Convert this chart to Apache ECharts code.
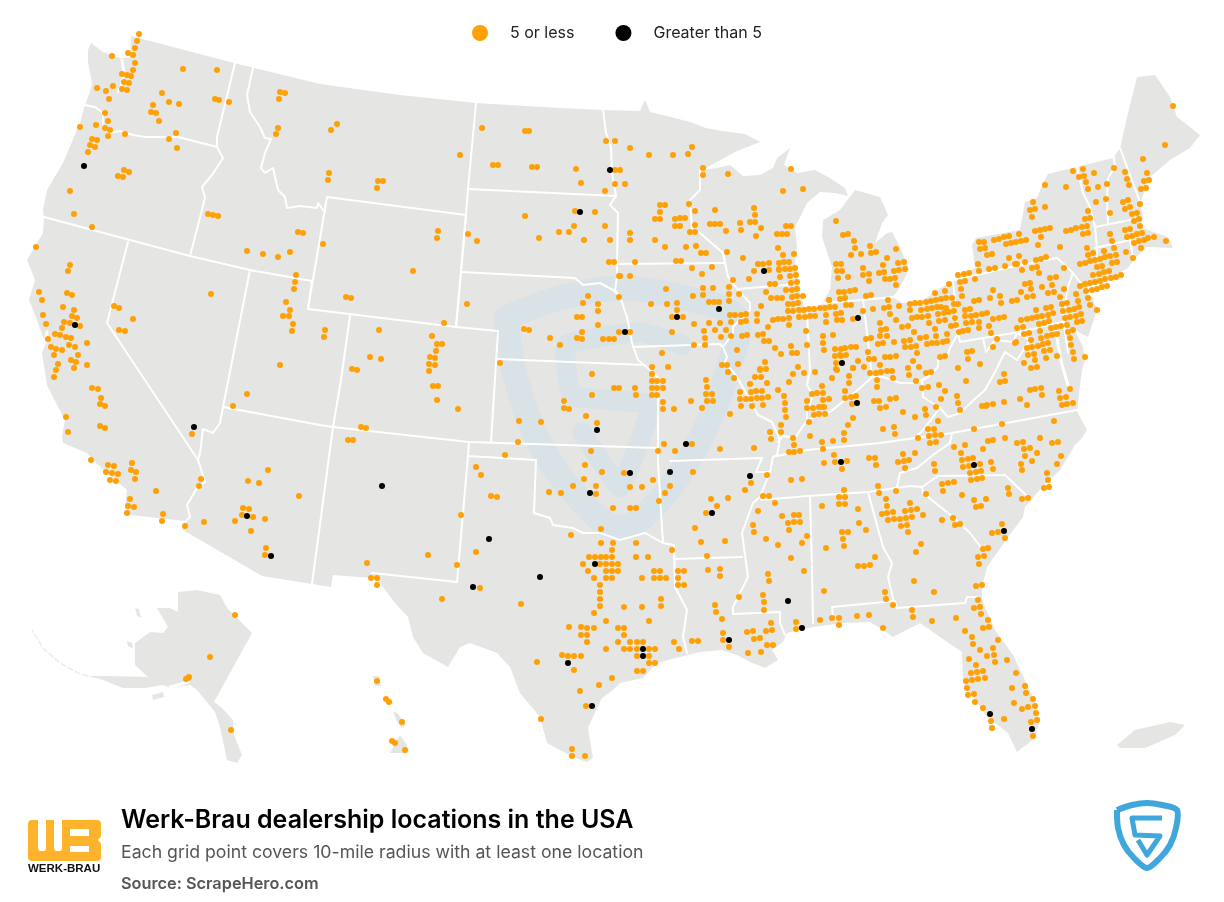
<!DOCTYPE html>
<html>
<head>
<meta charset="utf-8">
<title>Werk-Brau dealership locations in the USA</title>
<style>
  html, body { margin: 0; padding: 0; background: #fff; }
  #chart { width: 1224px; height: 902px; }
</style>
<script src="https://cdn.jsdelivr.net/npm/echarts@6/dist/echarts.min.js"></script>
</head>
<body>
<div id="chart"></div>
<script>
// dots, one array per part of the map, in picture units
var lessNorthwest = [[139,34],[137,41],[135,48],[128,53],[133,55],[112,56],[135,63],[133,70],[122,74],[127,75],[131,76],[124,82],[129,83],[97,88],[113,86],[106,91],[122,89],[127,90],[109,99],[183,69],[217,70],[162,93],[169,102],[179,104],[153,105],[151,112],[156,113],[159,121],[215,99],[219,100],[229,102],[280,92],[285,93],[279,99],[278,128],[276,134],[105,113],[108,121],[96,125],[105,128],[110,130],[108,136],[125,134],[80,127],[92,139],[97,140],[90,145],[95,147],[88,152],[176,133],[169,139],[177,148],[124,170],[129,172],[118,176],[123,177],[70,191],[74,214],[92,227],[208,214],[213,215],[218,216],[298,232],[303,233],[247,251],[263,254],[278,257],[290,252],[296,275],[295,282],[294,289],[36,247],[70,265],[68,271],[39,292],[42,300],[67,293],[72,295],[211,294]];
var lessSouthwest = [[286,302],[290,310],[283,316],[289,316],[293,324],[292,331],[114,306],[119,308],[133,319],[119,330],[125,331],[63,307],[74,310],[72,316],[77,318],[43,315],[46,324],[64,322],[70,323],[80,326],[62,328],[55,334],[60,335],[66,337],[71,338],[48,339],[87,343],[69,345],[75,347],[51,347],[56,349],[62,350],[54,355],[78,355],[71,360],[76,362],[58,364],[87,365],[74,368],[56,370],[54,377],[280,365],[92,388],[98,389],[101,398],[100,404],[105,406],[247,394],[233,406],[66,417],[100,426],[105,428],[68,432],[192,434],[91,460],[108,465],[114,466],[132,463],[106,472],[112,473],[118,474],[131,470],[136,472],[110,480],[116,481],[135,479],[156,491],[130,499],[128,506],[134,507],[127,513],[163,514],[162,521],[185,526],[204,522],[201,479],[199,486],[268,470],[248,481],[259,483],[299,496],[243,508],[249,509],[242,515],[253,517],[235,521],[265,519],[251,531],[266,548],[265,555]];
var lessMountain = [[337,124],[331,130],[329,173],[328,180],[378,181],[383,181],[377,188],[460,155],[482,128],[525,131],[529,131],[493,165],[498,165],[532,167],[537,167],[576,169],[581,183],[606,141],[615,141],[615,170],[620,170],[615,184],[625,184],[605,191],[323,244],[438,231],[437,238],[413,271],[346,297],[351,298],[575,211],[595,212],[525,216],[574,226],[605,226],[559,232],[569,232],[468,234],[477,241],[539,238],[584,240],[610,240],[609,262],[614,262],[619,276],[588,296],[583,303],[598,304],[598,311],[577,317],[582,317],[598,325],[524,329],[529,330],[582,332],[619,332],[577,338],[582,339],[603,339],[609,339],[614,339],[550,338],[560,345],[467,304],[444,323],[500,363],[592,374],[325,330],[324,337],[379,330],[432,336],[437,344],[442,344],[436,351],[430,357],[435,358],[370,357],[381,359],[429,364],[435,365],[429,371],[352,369],[357,370],[433,386],[438,386],[437,400],[458,409],[361,427],[366,428],[348,440],[353,440]];
var lessPlains = [[652,374],[652,381],[657,381],[663,381],[614,388],[619,388],[635,388],[652,388],[657,388],[663,388],[592,395],[636,395],[652,395],[657,395],[564,401],[663,402],[564,408],[569,409],[663,409],[674,409],[586,416],[519,421],[541,422],[597,423],[518,442],[664,444],[591,451],[658,451],[675,451],[505,455],[585,465],[476,467],[481,475],[602,472],[624,473],[584,479],[653,480],[596,486],[573,486],[630,487],[642,487],[670,486],[549,492],[561,493],[596,494],[665,493],[491,496],[497,497],[659,501],[613,508],[630,508],[636,508],[461,515],[601,529],[571,535]];
var lessTexas = [[601,543],[613,543],[636,543],[476,552],[612,550],[672,550],[589,557],[595,557],[601,557],[606,557],[612,557],[636,557],[648,557],[428,555],[583,564],[600,564],[606,564],[612,564],[618,564],[367,563],[457,565],[588,571],[606,571],[612,571],[618,571],[654,571],[660,571],[678,571],[371,578],[377,578],[594,578],[606,578],[612,578],[642,578],[654,578],[660,578],[666,578],[678,578],[377,585],[600,585],[480,588],[600,592],[600,599],[442,599],[661,599],[521,604],[600,606],[624,607],[642,607],[661,606],[594,613],[606,621],[649,621],[569,627],[581,627],[587,628],[594,628],[618,628],[624,628],[581,635],[587,635],[624,635],[587,642],[618,642],[630,642],[637,642],[643,642],[674,642],[606,649],[624,649],[630,649],[637,649],[649,649],[655,649],[679,649],[562,655],[568,656],[574,656],[581,656],[637,656],[649,656],[537,662],[649,663],[655,663],[574,670],[637,671],[643,671],[612,678],[599,685],[580,691],[586,706],[541,719],[572,749],[572,756],[585,756]];
var lessIslands = [[377,681],[386,699],[389,702],[402,722],[392,741],[395,743],[405,750],[235,615],[210,657],[189,677],[188,678],[186,679],[231,730]];
var lessUpperMidwest = [[630,148],[649,155],[673,155],[688,154],[692,147],[703,168],[703,175],[728,174],[791,169],[783,191],[803,189],[660,205],[665,205],[689,204],[660,212],[695,211],[715,210],[754,208],[755,215],[655,219],[660,219],[675,219],[680,218],[685,218],[750,222],[755,222],[740,223],[710,224],[715,224],[720,224],[675,226],[680,226],[695,225],[786,226],[791,226],[761,228],[741,230],[726,231],[690,232],[695,232],[630,233],[777,234],[782,234],[787,234],[756,236],[630,240],[655,240],[665,247],[686,247],[696,246],[778,248],[701,253],[706,253],[727,252],[783,255],[794,254],[743,258],[635,262],[676,261],[681,261],[784,262],[789,262],[758,264],[763,264],[769,263],[779,263],[692,268],[712,267],[779,269],[785,269],[790,269],[795,268],[754,271],[769,270],[779,270],[702,274],[790,276],[796,275],[620,276],[630,276],[780,277],[733,280],[749,279],[791,283],[797,282],[770,284],[775,284],[666,289],[703,288],[713,288],[729,287],[786,290],[792,290],[797,289],[729,294],[766,292],[739,294],[693,296],[703,295],[792,297],[797,296],[803,296],[619,297],[771,298],[777,298],[782,298],[729,301],[709,302],[714,302],[719,302],[788,304],[793,304],[798,303],[651,304],[667,304],[677,303],[761,306],[829,300],[677,310],[788,311],[793,311],[799,310],[804,310],[809,309],[814,309],[820,308],[825,308],[830,307],[835,307],[730,315],[735,315],[741,315],[746,314],[757,314],[826,315],[836,314],[672,317],[683,317],[789,318],[799,317],[805,317],[810,316],[815,316],[773,320],[778,319],[783,319],[731,322],[741,322],[746,321],[757,321],[709,323],[720,323],[694,324],[826,322],[789,325],[768,327],[715,330],[726,330],[704,331],[630,332],[672,332],[806,331],[731,336],[721,337],[705,338],[742,336],[747,335],[758,335],[763,334],[823,336],[833,335],[764,341],[769,341],[823,343],[694,345],[705,345],[791,346],[807,345],[775,348],[737,350],[824,350],[835,349],[792,353],[797,353],[781,354],[662,353],[835,356],[840,355],[765,362],[836,363],[798,367],[738,364],[722,365],[727,365],[652,367],[668,367],[760,369],[766,369],[836,369]];
var lessGreatLakes = [[836,221],[843,235],[848,234],[854,241],[855,248],[851,255],[861,254],[870,246],[871,253],[876,252],[896,249],[887,258],[836,264],[841,264],[883,265],[898,263],[904,262],[863,268],[905,269],[899,270],[894,271],[879,273],[884,272],[837,271],[842,271],[863,275],[869,274],[838,278],[848,277],[869,281],[885,279],[890,279],[895,278],[896,285],[839,292],[844,292],[850,291],[855,290],[866,296],[871,295],[829,300],[840,299],[845,298],[888,300],[846,305],[851,305],[899,306],[910,304],[915,303],[920,303],[926,302],[931,301],[936,300],[941,299],[946,298],[952,298],[935,293],[945,291],[949,284],[958,275],[964,274],[969,273],[960,282],[965,281],[975,279],[961,289],[962,296],[954,304],[958,304],[974,301],[979,300],[990,298],[1000,296],[1001,303],[993,290],[1012,301],[1017,300],[978,264],[979,271],[989,269],[995,268],[1005,266],[1017,264],[1009,258],[979,242],[984,242],[994,240],[999,239],[1004,237],[1009,236],[1019,234],[1006,244],[1011,243],[1016,242],[980,249],[985,248],[987,255],[992,254],[873,309],[863,311],[884,308],[889,307],[910,310],[921,310],[927,309],[932,308],[937,307],[941,307],[946,308],[841,313],[890,314],[912,318],[917,317],[922,317],[928,316],[938,314],[944,313],[949,312],[954,311],[965,310],[970,309],[955,318],[965,316],[971,316],[976,315],[982,314],[987,313],[837,320],[842,320],[853,319],[896,320],[939,321],[945,320],[929,323],[966,323],[972,322],[979,322],[993,319],[999,318],[1004,317],[880,323],[902,327],[908,326],[951,326],[956,325],[881,330],[886,329],[935,329],[979,328],[989,326],[1017,328],[959,332],[963,331],[968,330],[914,332],[991,333],[880,336],[887,336],[936,336],[947,334],[866,339],[871,338],[920,338],[926,337],[904,341],[910,340],[947,341],[878,344],[883,343],[894,342],[927,344],[932,343],[937,343],[943,342],[905,347],[911,347],[916,346],[841,349],[845,348],[851,347],[856,347],[885,357],[890,357],[896,356],[868,352],[917,353],[841,356],[846,355],[869,359],[874,359],[940,357],[945,356],[858,361],[880,365],[853,368],[864,367],[913,361],[919,367],[908,368],[837,370],[887,371],[892,371],[870,373],[876,373],[881,372],[926,373],[931,372],[909,375],[849,376],[832,378],[877,380],[893,378],[916,381],[849,383],[877,387],[922,388],[928,387],[939,385],[822,386],[823,393],[845,391],[945,391],[845,398],[851,397],[856,396],[829,399],[823,400],[874,401],[879,401],[890,399],[896,398],[852,404],[823,407],[936,407],[880,408],[886,407],[925,409],[903,412],[926,415],[915,417],[958,368],[966,381],[980,364],[968,359],[967,352],[972,351],[993,347],[997,339],[1016,342],[1004,374],[1000,382],[1005,381],[957,396],[958,403],[960,410],[986,406],[993,404],[1004,402]];
var lessNortheast = [[1173,106],[1165,145],[1143,159],[1114,168],[1073,171],[1083,169],[1094,173],[1125,172],[1079,177],[1084,176],[1127,179],[1147,173],[1144,181],[1149,180],[1086,182],[1107,184],[1129,185],[1045,185],[1066,187],[1098,187],[1088,189],[1141,189],[1146,188],[1106,199],[1096,202],[1123,202],[1128,200],[1033,202],[1140,204],[1045,207],[1030,210],[1035,209],[1125,209],[1130,207],[1088,211],[1110,213],[1132,214],[1137,213],[1032,217],[1085,219],[1090,218],[1134,221],[1139,219],[1140,226],[1082,227],[1087,226],[1035,231],[1040,230],[1045,229],[1050,228],[1066,231],[1071,230],[1076,228],[1083,234],[1088,233],[1110,234],[1125,230],[1130,229],[1127,237],[1132,236],[1137,234],[1142,233],[1148,238],[1154,237],[1144,240],[1139,241],[1134,243],[1166,241],[1112,241],[1041,237],[1021,241],[1026,240],[1038,245],[1060,247],[1087,248],[1141,248],[1114,248],[1104,251],[1126,252],[1088,255],[1093,253],[1110,256],[1116,255],[1105,257],[1133,258],[1019,256],[1100,259],[1095,260],[1090,261],[1085,263],[1080,264],[1041,259],[1046,257],[1036,260],[1025,262],[1015,264],[1112,263],[1117,262],[1097,267],[1102,266],[1032,268],[1037,267],[1064,268],[1022,270],[1039,273],[1109,271],[1104,272],[1099,274],[1093,275],[1121,275],[1116,277],[1111,278],[1105,279],[1100,281],[1095,282],[1090,283],[1085,284],[1080,286],[1050,278],[1056,277],[1025,284],[1030,283],[1052,285],[1042,287],[1107,286],[1102,287],[1097,289],[1092,290],[1086,291],[1064,289],[1031,289],[1021,292],[1048,293],[1054,292],[1076,294],[1027,297],[1033,296],[1060,297],[1088,298],[1078,301],[1062,304],[1067,303],[1090,305],[1046,308],[1051,307],[1036,310],[1079,307],[1074,309],[1069,310],[1063,311],[1097,310],[1053,313],[1048,315],[1042,316],[1037,317],[1032,318],[1027,319],[1021,320],[1081,314],[1076,316],[1070,317],[1065,318],[1082,321],[1077,322],[1049,321],[1044,323],[1039,324],[1067,325],[1023,327],[1061,326],[1056,327],[1051,328],[1073,330],[1068,332],[1057,334],[1052,335],[1047,336],[1040,331],[1029,333],[1024,334],[1041,338],[1031,340],[1070,338],[1015,343],[1048,343],[1043,344],[1038,346],[1032,347],[1027,348],[1071,345],[1044,351],[1050,350],[1028,355],[1034,354],[1073,352],[1035,360],[1046,358],[1057,356],[1085,357],[1074,359],[1024,363],[1031,368],[1037,367]];
var lessSouthCentral = [[760,370],[793,374],[804,373],[815,372],[853,368],[728,372],[706,380],[734,378],[755,377],[761,377],[707,387],[750,384],[767,383],[789,382],[706,394],[712,394],[740,392],[751,392],[756,391],[762,391],[778,390],[812,394],[817,393],[784,396],[691,401],[707,401],[713,401],[740,399],[746,399],[751,399],[757,398],[762,398],[768,397],[807,401],[741,406],[752,406],[763,405],[785,403],[702,408],[807,408],[813,408],[819,407],[824,407],[785,410],[730,414],[786,417],[814,415],[819,414],[825,414],[809,422],[853,418],[848,425],[781,425],[883,429],[894,427],[770,432],[781,432],[844,433],[895,434],[810,436],[771,439],[793,438],[844,440],[833,441],[822,442],[794,445],[692,444],[823,449],[720,449],[754,448],[789,452],[794,452],[800,451],[834,455],[869,458],[875,458],[904,461],[898,462],[909,460],[847,461],[835,462],[824,463],[876,465],[905,468],[842,469],[693,472],[767,475],[791,480],[802,479],[751,483],[878,486],[745,490],[844,490],[896,491],[879,493],[763,496],[769,496],[839,497],[845,497],[711,499],[728,498],[886,499],[775,503],[839,504],[845,504],[717,506],[822,506],[887,506],[858,509],[758,511],[893,512],[905,511],[706,513],[882,514],[887,513],[794,515],[799,515],[782,516],[888,520],[894,519],[900,519],[906,518],[794,522],[800,522],[788,523],[859,523],[901,526],[907,525],[753,525],[695,528],[789,530],[866,530],[754,532],[842,532],[848,532],[908,532],[807,536],[766,539],[843,539],[701,542],[725,541],[802,543],[778,545],[844,546],[826,548],[707,556],[791,558],[875,557],[858,566],[864,566],[870,565],[684,571],[708,570],[720,569],[804,571],[768,574],[720,576],[678,585],[769,581],[684,585],[824,591],[885,592],[763,595],[886,599],[739,597],[764,602],[715,605],[893,605],[716,612],[764,610],[722,619],[796,622],[820,620],[832,618],[839,618],[857,616],[869,615],[771,623],[796,629],[839,625],[883,628],[723,633],[747,632],[753,631],[766,631],[772,630],[692,641],[698,641],[723,640],[760,638],[754,639],[767,645],[773,645],[729,647],[748,653],[761,652]];
var lessSoutheast = [[1030,390],[1035,389],[1041,388],[1042,395],[1020,399],[1059,391],[1070,389],[1060,398],[1066,397],[1062,405],[1067,404],[1073,403],[941,399],[982,406],[987,405],[1027,405],[1002,424],[1054,421],[938,421],[974,429],[928,429],[934,429],[929,436],[935,435],[941,435],[918,438],[930,443],[936,442],[988,441],[993,440],[1005,438],[1017,443],[1023,442],[1040,438],[1052,443],[1058,442],[954,447],[965,445],[983,449],[1024,449],[1030,448],[903,454],[915,453],[961,453],[1037,453],[1025,456],[1061,456],[968,459],[973,458],[962,460],[991,462],[1032,461],[934,464],[1021,464],[1057,464],[963,467],[969,466],[980,464],[993,469],[1022,470],[935,471],[981,471],[976,472],[970,473],[1047,473],[982,478],[977,479],[971,480],[1048,480],[942,484],[948,483],[954,482],[1049,487],[1044,488],[1008,488],[943,491],[926,494],[1009,494],[962,495],[1022,499],[1028,498],[974,500],[986,499],[910,503],[976,507],[981,506],[917,509],[911,510],[923,515],[912,517],[942,520],[953,518],[955,525],[960,524],[1002,524],[992,533],[998,532],[1005,538],[921,544],[983,549],[988,548],[916,552],[978,557],[984,556],[979,564],[914,581],[982,585],[976,586],[934,592],[978,600],[974,608],[980,607],[912,610],[981,614],[913,617],[956,618],[932,621],[988,620],[989,627],[983,628],[965,631],[972,637],[998,640],[973,644],[993,648],[980,650],[994,655],[987,656],[969,659],[1007,660],[995,662],[976,665],[983,671],[977,672],[971,673],[1016,673],[985,678],[978,679],[972,680],[966,681],[967,688],[1012,688],[1025,686],[974,694],[968,695],[1026,693],[1033,699],[1014,703],[975,702],[1035,706],[1028,707],[1022,709],[983,708],[1036,713],[1037,720],[1031,722],[991,721],[1004,719],[992,728],[1033,736]];
var moreDots = [[84,166],[75,325],[194,427],[247,516],[271,556],[610,170],[580,212],[382,486],[597,430],[630,473],[670,472],[590,493],[489,539],[595,564],[540,577],[473,587],[643,649],[643,656],[568,663],[592,706],[764,271],[719,309],[677,317],[625,332],[858,318],[842,363],[857,403],[686,444],[841,462],[750,476],[712,513],[788,601],[802,628],[729,640],[974,465],[1004,531],[990,714],[1032,729]];

// land outlines, same units
var lower48 = [[131,36],[234,63],[320,84],[400,95],[476,103],[560,108],[603,110],[640,111],[645,100],[650,112],[675,118],[690,122],[706,128],[722,131],[745,134],[760,142],[735,152],[715,163],[703,170],[717,168],[730,165],[743,176],[760,175],[773,168],[777,158],[790,148],[784,165],[797,173],[815,170],[830,178],[845,188],[848,196],[835,193],[820,192],[807,203],[795,227],[797,247],[795,263],[800,290],[804,307],[820,307],[830,290],[832,267],[822,237],[823,220],[840,210],[855,190],[880,197],[888,215],[882,223],[875,243],[887,233],[892,232],[900,247],[909,270],[902,283],[897,292],[892,297],[903,303],[920,302],[935,292],[953,280],[975,268],[972,245],[976,238],[1020,230],[1025,202],[1037,198],[1043,183],[1048,174],[1113,158],[1120,148],[1128,113],[1137,77],[1155,75],[1170,97],[1177,117],[1200,135],[1190,148],[1170,160],[1150,177],[1140,203],[1143,217],[1140,227],[1157,233],[1168,237],[1173,248],[1147,247],[1135,258],[1128,268],[1110,278],[1082,290],[1092,297],[1097,310],[1088,337],[1080,333],[1073,327],[1083,347],[1085,360],[1082,370],[1080,385],[1077,412],[1087,430],[1082,438],[1075,445],[1060,470],[1037,493],[1025,507],[1023,517],[1008,537],[987,567],[982,587],[982,600],[995,630],[1013,655],[1033,697],[1040,720],[1035,738],[1017,752],[1008,733],[987,717],[963,682],[962,652],[940,637],[920,623],[893,637],[880,628],[870,622],[843,623],[813,627],[787,633],[783,642],[772,650],[778,660],[765,668],[750,662],[737,655],[722,650],[700,652],[680,657],[657,663],[643,678],[620,683],[613,690],[602,698],[593,717],[588,728],[593,758],[587,762],[573,757],[547,743],[540,717],[520,693],[510,667],[497,653],[470,643],[460,647],[448,667],[423,653],[413,637],[408,617],[395,603],[380,583],[372,578],[333,575],[331,587],[312,584],[262,576],[183,530],[185,521],[130,515],[125,507],[127,490],[98,465],[87,453],[63,443],[62,437],[65,420],[53,397],[47,385],[42,353],[45,345],[48,340],[44,340],[38,323],[32,307],[29,300],[35,280],[27,260],[43,233],[44,217],[43,210],[47,190],[63,163],[80,123],[85,105],[90,92],[92,83],[88,63],[88,50],[91,43],[103,52],[120,58],[130,58]];
var alaska = [[178,592],[197,590],[220,595],[227,608],[252,633],[214,702],[222,708],[233,720],[234,735],[242,755],[237,763],[227,760],[220,727],[215,712],[197,690],[190,685],[170,688],[163,685],[145,688],[123,688],[103,680],[88,676],[110,676],[148,677],[135,665],[135,643],[150,632],[163,633],[168,627],[157,608],[170,608],[178,612]];
var aleutians = [[88,676],[78,673],[60,663],[43,648],[32,630]];
var kodiak = [[152,695],[163,692],[164,697],[153,700]];
var nunivak = [[127,641],[132,643],[133,648],[128,646]];
var stLawrence = [[135,608],[139,609],[141,618],[137,616]];
var hawaiiBig = [[390,753],[400,735],[407,745],[408,753]];
var hawaiiMaui = [[393,711],[398,714],[406,725],[402,728],[397,722]];
var hawaiiOahu = [[384,697],[391,698],[393,704],[387,704]];
var hawaiiKauai = [[373,676],[379,676],[381,686],[375,686]];
var puertoRico = [[1117,745],[1135,730],[1170,722],[1185,725],[1175,735],[1145,748],[1120,748]];

// state lines
var stateLines = [
  [[235,63],[217,137],[217,146]],
  [[85,105],[95,107],[103,113],[103,128],[110,133],[120,131],[133,135],[145,137],[167,137],[178,137],[217,147],[223,158],[212,175],[202,187],[205,198],[190,256]],
  [[253,68],[247,95],[250,112],[260,127],[265,138],[271,139],[265,153],[261,168],[265,173],[273,168],[278,190],[285,197],[287,208],[300,206],[317,208],[318,203],[323,210]],
  [[327,197],[466,215],[456,327],[308,309],[327,197]],
  [[476,103],[468,189],[466,215],[461,272],[456,327]],
  [[468,189],[616,196]],
  [[461,272],[575,278],[583,285],[600,283],[613,290],[620,297]],
  [[456,327],[498,331],[491,442]],
  [[497,359],[645,365]],
  [[350,316],[341,380],[333,427],[312,584]],
  [[333,427],[469,442],[658,448]],
  [[469,442],[468,456],[536,460],[534,513],[550,518],[553,525],[573,528],[583,533],[600,533],[620,540],[645,533],[663,543],[674,545]],
  [[468,456],[457,582],[372,573]],
  [[223,407],[320,425],[333,427]],
  [[223,407],[220,423],[213,433],[203,429],[200,453],[198,460],[205,482],[197,488],[187,505],[190,517],[185,522]],
  [[128,242],[107,323],[198,460]],
  [[44,217],[190,256],[250,270],[312,281]],
  [[250,270],[223,407]],
  [[312,281],[308,309]],
  [[603,109],[606,133],[611,147],[612,173],[616,196],[610,205],[618,213],[617,263],[617,277],[615,290],[620,297],[627,317],[632,343],[638,360],[650,370],[658,378],[658,462],[663,543]],
  [[617,264],[725,263]],
  [[700,170],[700,190],[690,200],[692,230],[700,233],[723,253],[725,263],[728,277],[738,290],[750,303],[750,310],[733,327],[733,333],[723,347],[727,357],[725,362],[737,377],[758,415],[772,422],[780,440],[777,455],[773,457],[770,472],[760,497],[753,503],[742,533],[748,577],[733,607],[733,614],[780,612],[780,623],[785,635]],
  [[633,347],[720,344],[723,347]],
  [[738,289],[797,284]],
  [[807,313],[810,370],[807,385],[813,395],[807,412],[807,420]],
  [[820,303],[863,300],[892,297]],
  [[863,300],[867,333],[872,377],[860,388],[830,412],[807,420],[795,438],[783,436],[778,442]],
  [[953,280],[958,333],[950,348],[947,357],[938,357],[938,367],[928,377],[917,383],[900,383],[883,377],[872,377]],
  [[955,280],[1020,265],[1057,258],[1065,265],[1073,273],[1068,287],[1063,318]],
  [[958,333],[960,342],[983,338],[1020,332],[1062,322]],
  [[1073,273],[1082,285]],
  [[983,338],[986,352],[995,340],[1013,342],[1017,333],[1030,340],[1017,360],[1005,352],[995,372],[985,390],[977,397],[960,413],[948,417],[940,408],[923,397],[922,380]],
  [[940,408],[923,430],[915,438],[880,443],[807,450],[777,456]],
  [[915,438],[952,433],[1077,410]],
  [[952,433],[950,443],[933,455],[917,468],[900,473],[897,487]],
  [[761,500],[808,496],[868,492],[910,486],[922,487]],
  [[922,487],[923,493],[953,517],[970,533],[983,550]],
  [[922,487],[938,476],[1005,475],[1028,497]],
  [[868,492],[883,547],[892,563],[888,577],[895,607]],
  [[810,497],[812,567],[813,623]],
  [[832,607],[895,601],[897,608],[965,603],[967,597],[977,597]],
  [[832,607],[833,617]],
  [[670,461],[762,458],[756,472],[770,472]],
  [[674,559],[742,557]],
  [[674,545],[675,587],[687,610],[683,637],[687,653]],
  [[1077,167],[1083,193],[1090,207],[1095,227],[1097,248],[1097,260]],
  [[1095,227],[1140,218]],
  [[1095,248],[1130,240],[1133,257]],
  [[1113,150],[1115,167],[1108,178],[1107,200],[1108,223]],
  [[1120,148],[1140,202]],
  [[1063,318],[1068,353]]
];
// water cut into the land, drawn a little heavier
var inlets = [
  [[122,60],[124,73],[121,87],[118,92]],
  [[47,332],[45,343]],
  [[1056,325],[1058,345],[1062,365],[1068,385]],
  [[170,687],[188,682]]
];

// ScrapeHero mark behind the dots
var markRings = [
  [[506,318],[560,298],[622,288],[685,298],[736,318],[728,370],[700,440],[660,500],[620,528],[580,500],[538,440],[515,375],[506,318]]
];
var markS = [
  [[682,345],[640,332],[566,345],[572,396],[650,405],[620,487],[582,432]]
];

var lessDots = [].concat(lessNorthwest, lessSouthwest, lessMountain, lessPlains, lessTexas, lessIslands, lessUpperMidwest, lessGreatLakes, lessNortheast, lessSouthCentral, lessSoutheast);
var landShapes = [lower48, alaska, kodiak, nunivak, stLawrence, hawaiiBig, hawaiiMaui, hawaiiOahu, hawaiiKauai, puertoRico];

var titleText = 'Werk-Brau dealership locations in the USA';
var subText = 'Each grid point covers 10-mile radius with at least one location';
var sourceText = 'Source: ScrapeHero.com';
var legendNames = ['5 or less', 'Greater than 5'];

// logo outlines
var shieldOuter = [[1117,810],[1132,805],[1147,803],[1162,805],[1177,810],[1176,828],[1170,845],[1160,858],[1147,868],[1134,858],[1124,845],[1118,828],[1117,810]];
var shieldInner = [[1162,818],[1132,818],[1135,835],[1160,836],[1147,855],[1138,840]];

function toPixels(api, shape) {
  return shape.map(function (p) { return api.coord(p); });
}

function pathSeries(shapes, width, color, smooth) {
  return {
    type: 'custom',
    coordinateSystem: 'cartesian2d',
    silent: true,
    data: shapes.map(function (s, i) { return [i]; }),
    renderItem: function (params, api) {
      return {
        type: 'polyline',
        shape: { points: toPixels(api, shapes[params.dataIndex]), smooth: smooth || 0 },
        style: { stroke: color, lineWidth: width, fill: null, lineJoin: 'round', lineCap: 'round' }
      };
    }
  };
}

var chart = echarts.init(document.getElementById('chart'), null, { renderer: 'canvas' });

chart.setOption({
  animation: false,
  backgroundColor: '#fff',
  textStyle: { fontFamily: 'Inter' },
  title: [
    { text: titleText, left: 121, top: 808, padding: 0, textStyle: { fontFamily: 'Inter', fontSize: 25, fontWeight: 600, color: '#000' } },
    { text: subText, left: 121, top: 844, padding: 0, textStyle: { fontFamily: 'Inter', fontSize: 17.7, fontWeight: 400, color: '#555' } },
    { text: sourceText, left: 121, top: 876, padding: 0, textStyle: { fontFamily: 'Inter', fontSize: 16.3, fontWeight: 600, color: '#555' } }
  ],
  legend: {
    data: [{ name: legendNames[0], icon: 'circle' }, { name: legendNames[1], icon: 'circle' }],
    left: 467,
    top: 20,
    itemWidth: 16,
    itemHeight: 16,
    itemGap: 41,
    selectedMode: false,
    textStyle: { fontFamily: 'Inter', fontSize: 16, color: '#222', padding: [0, 0, 0, 17] }
  },
  grid: { left: 0, right: 0, top: 0, bottom: 0 },
  xAxis: { type: 'value', min: 0, max: 1224, show: false },
  yAxis: { type: 'value', min: 0, max: 902, inverse: true, show: false },
  series: [
    {
      type: 'custom',
      coordinateSystem: 'cartesian2d',
      silent: true,
      data: landShapes.map(function (s, i) { return [i]; }),
      renderItem: function (params, api) {
        return {
          type: 'polygon',
          shape: { points: toPixels(api, landShapes[params.dataIndex]) },
          style: { fill: '#e5e5e4' }
        };
      }
    },
    {
      type: 'custom',
      coordinateSystem: 'cartesian2d',
      silent: true,
      data: [[0]],
      renderItem: function (params, api) {
        return {
          type: 'polyline',
          shape: { points: toPixels(api, aleutians) },
          style: { stroke: '#ececec', lineWidth: 1.5, fill: null, lineDash: [6, 2] }
        };
      }
    },
    pathSeries(markRings, 25, '#d9e2e6', 0.35),
    pathSeries(markS, 20, '#d9e2e6', 0.1),
    pathSeries(stateLines, 2, '#fff'),
    pathSeries(inlets, 3, '#fff'),
    {
      name: legendNames[0],
      type: 'scatter',
      data: lessDots,
      symbol: 'circle',
      symbolSize: 6,
      itemStyle: { color: '#ffa005', opacity: 1 },
      silent: true,
      z: 5
    },
    {
      name: legendNames[1],
      type: 'scatter',
      data: moreDots,
      symbol: 'circle',
      symbolSize: 6,
      itemStyle: { color: '#000', opacity: 1 },
      silent: true,
      z: 6
    }
  ],
  graphic: [
    // Werk-Brau logo
    { type: 'rect', shape: { x: 28, y: 820, width: 73, height: 41, r: 4 }, style: { fill: '#fdb32b' } },
    { type: 'rect', shape: { x: 38, y: 820, width: 8, height: 31, r: [0, 0, 3, 3] }, style: { fill: '#fff' } },
    { type: 'rect', shape: { x: 54, y: 820, width: 8, height: 31, r: [0, 0, 3, 3] }, style: { fill: '#fff' } },
    { type: 'rect', shape: { x: 70, y: 829, width: 19, height: 7 }, style: { fill: '#fff' } },
    { type: 'rect', shape: { x: 70, y: 846, width: 19, height: 6 }, style: { fill: '#fff' } },
    { type: 'polygon', shape: { points: [[102, 835], [98, 840], [102, 845]] }, style: { fill: '#fff' } },
    { type: 'text', x: 28, y: 863, style: { text: 'WERK-BRAU', font: '900 11.5px "Liberation Sans"', fill: '#111' } },
    // ScrapeHero logo
    { type: 'polyline', shape: { points: shieldOuter, smooth: 0.3 }, style: { fill: null, stroke: '#3fa7db', lineWidth: 6, lineJoin: 'round' } },
    { type: 'polyline', shape: { points: shieldInner }, style: { fill: null, stroke: '#3fa7db', lineWidth: 5, lineJoin: 'round' } }
  ]
});
</script>
</body>
</html>
